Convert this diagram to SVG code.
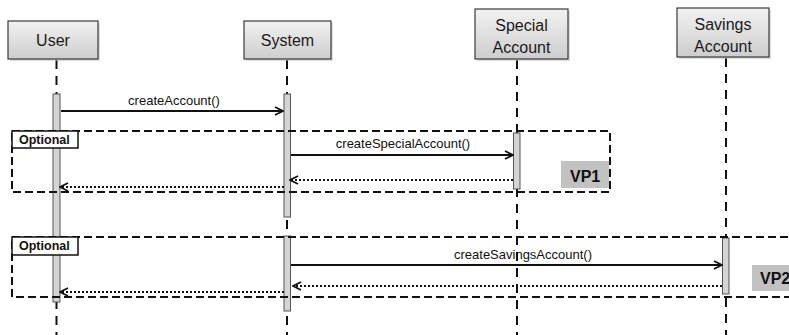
<svg xmlns="http://www.w3.org/2000/svg" width="789" height="335" viewBox="0 0 789 335">
  <style>
    .head { fill: url(#headFill); stroke: #3a3a3a; stroke-width: 1.2; }
    .headText { font-family: "Liberation Sans", Arial, sans-serif; font-size: 16px; fill: #1a1a1a; text-anchor: middle; }
    .life { stroke: #111; stroke-width: 2; stroke-dasharray: 9 7; fill: none; }
    .act { fill: #d4d4d4; stroke: #555; stroke-width: 1; }
    .frame { fill: none; stroke: #111; stroke-width: 2; stroke-dasharray: 8 4; }
    .tab { fill: #fff; stroke: #111; stroke-width: 1.5; }
    .tabText { font-family: "Liberation Sans", Arial, sans-serif; font-size: 12.5px; font-weight: bold; fill: #111; }
    .vp { fill: #c2c2c2; }
    .vpText { font-family: "Liberation Sans", Arial, sans-serif; font-size: 16px; font-weight: bold; fill: #111; }
    .call { stroke: #111; stroke-width: 1.8; fill: none; marker-end: url(#open); }
    .ret { stroke: #111; stroke-width: 2; stroke-dasharray: 2 2; fill: none; marker-end: url(#open); }
    .msg { font-family: "Liberation Sans", Arial, sans-serif; font-size: 13px; fill: #111; text-anchor: middle; }
  </style>
  <defs>
    <linearGradient id="headFill" x1="0" y1="0" x2="0" y2="1">
      <stop offset="0" stop-color="#f2f2f2"/>
      <stop offset="1" stop-color="#cdcdcd"/>
    </linearGradient>
    <marker id="open" viewBox="0 0 10 10" refX="9" refY="5" markerWidth="10" markerHeight="10" markerUnits="userSpaceOnUse" orient="auto">
      <path d="M1,1 L9,5 L1,9" fill="none" stroke="#111" stroke-width="1.8"/>
    </marker>
  </defs>

  <rect width="789" height="335" fill="#fff"/>

  <!-- lifelines -->
  <g id="lifelines">
    <line class="life" x1="56.5" y1="60" x2="56.5" y2="335"/>
    <line class="life" x1="287" y1="60" x2="287" y2="335"/>
    <line class="life" x1="517" y1="60" x2="517" y2="335"/>
    <line class="life" x1="726" y1="58" x2="726" y2="335"/>
  </g>

  <!-- participants -->
  <g id="user">
    <rect x="10" y="23" width="90" height="38" fill="#bbb" opacity="0.5"/>
    <rect class="head" x="8" y="21" width="90" height="38"/>
    <text class="headText" x="53" y="46">User</text>
    <rect class="act" x="53" y="94" width="7" height="208"/>
  </g>
  <g id="system">
    <rect x="246" y="23" width="87" height="38" fill="#bbb" opacity="0.5"/>
    <rect class="head" x="244" y="21" width="87" height="38"/>
    <text class="headText" x="287.5" y="46">System</text>
    <rect class="act" x="284" y="94" width="6.5" height="123"/>
    <rect class="act" x="284" y="236" width="6.5" height="75"/>
  </g>
  <g id="special-account">
    <rect x="477" y="11" width="93" height="50" fill="#bbb" opacity="0.5"/>
    <rect class="head" x="475" y="9" width="93" height="50"/>
    <text class="headText" x="521.5" y="31">Special</text>
    <text class="headText" x="521.5" y="53">Account</text>
    <rect class="act" x="513.5" y="133" width="6.5" height="56"/>
  </g>
  <g id="savings-account">
    <rect x="679" y="10" width="92" height="49" fill="#bbb" opacity="0.5"/>
    <rect class="head" x="677" y="8" width="92" height="49"/>
    <text class="headText" x="723" y="30">Savings</text>
    <text class="headText" x="723" y="52">Account</text>
    <rect class="act" x="722.5" y="238" width="6.5" height="56"/>
  </g>

  <!-- combined fragments (optional blocks) -->
  <g id="frame1">
    <rect class="frame" x="12" y="131" width="598" height="61"/>
    <rect class="vp" x="561" y="161" width="48" height="27"/>
    <text class="vpText" x="570" y="182">VP1</text>
    <rect class="tab" x="12" y="131" width="66" height="17"/>
    <text class="tabText" x="19" y="144">Optional</text>
  </g>
  <g id="frame2">
    <path class="frame" d="M800,237 H12 V297 H800"/>
    <rect class="vp" x="752" y="265" width="40" height="26"/>
    <text class="vpText" x="760" y="284">VP2</text>
    <rect class="tab" x="12" y="237" width="66" height="18"/>
    <text class="tabText" x="19" y="250">Optional</text>
  </g>

  <!-- messages -->
  <g id="connectors">
    <line class="call" x1="61" y1="111" x2="283" y2="111"/>
    <text class="msg" x="174" y="105">createAccount()</text>

    <line class="call" x1="291" y1="155" x2="513" y2="155"/>
    <text class="msg" x="403" y="148">createSpecialAccount()</text>
    <line class="ret" x1="513" y1="180" x2="290" y2="180"/>
    <line class="ret" x1="284" y1="187" x2="60" y2="187"/>

    <line class="call" x1="291" y1="265" x2="722" y2="265"/>
    <text class="msg" x="523" y="259">createSavingsAccount()</text>
    <line class="ret" x1="722" y1="286" x2="293" y2="286"/>
    <line class="ret" x1="284" y1="292" x2="60" y2="292"/>
  </g>
</svg>
